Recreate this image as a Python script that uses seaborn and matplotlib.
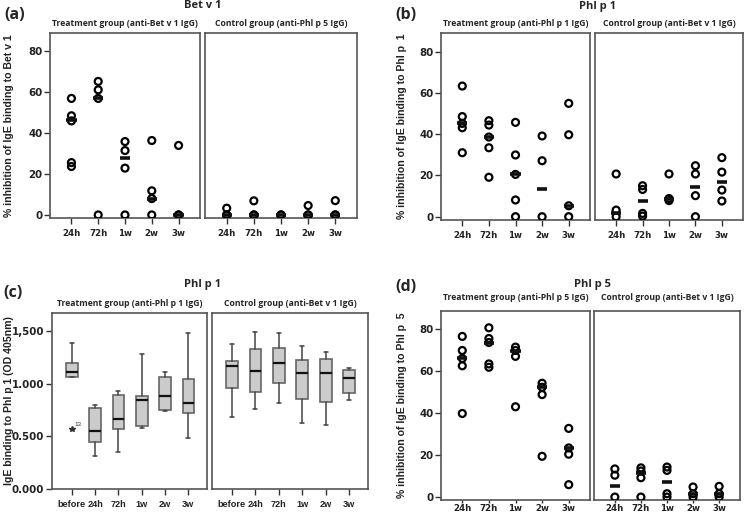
import numpy as np
import pandas as pd
import matplotlib
matplotlib.use("Agg")
import matplotlib.pyplot as plt
import seaborn as sns

# time points
times = ['24h', '72h', '1w', '2w', '3w']
c_times = ['before', '24h', '72h', '1w', '2w', '3w']

# (a) Bet v 1, % inhibition
a_treat = [[57, 48.5, 46, 25.6, 23.7], [65.3, 61.2, 57, 0], [35.9, 31.5, 22.9, 0],
           [36.4, 11.8, 8, 0], [34, 0, 0]]
a_treat_med = [46.2, 57, 27.8, 8, 0]
a_ctrl = [[3.3, 0, 0], [6.9, 0, 0], [0, 0], [4.6, 0, 0], [7, 0, 0]]
a_ctrl_med = [0, 0, 0, 0, 0]

# (b) Phl p 1, % inhibition
b_treat = [[63.3, 48.5, 45.2, 43.1, 31], [46.5, 44.4, 38.6, 33.4, 19.1],
           [45.7, 29.9, 20.5, 8.1, 0], [39.1, 27.1, 0], [54.9, 39.7, 5.3, 0]]
b_treat_med = [45.2, 38.6, 20.5, 13.2, 5.3]
b_ctrl = [[20.7, 3.2, 0], [15, 13.2, 1.6, 0.3], [20.7, 8.8, 7.8],
          [24.7, 20.7, 10.2, 0], [28.6, 21.6, 12.9, 7.6]]
b_ctrl_med = [1.6, 7.8, 8.4, 14.6, 16.6]

# (c) Phl p 1, IgE binding (OD 405nm), box statistics
c_treat_lo = [1.06, 0.313, 0.348, 0.58, 0.74, 0.48]
c_treat_q1 = [1.06, 0.442, 0.574, 0.596, 0.746, 0.724]
c_treat_med = [1.107, 0.552, 0.668, 0.846, 0.881, 0.818]
c_treat_q3 = [1.20, 0.768, 0.893, 0.884, 1.06, 1.044]
c_treat_hi = [1.389, 0.793, 0.928, 1.279, 1.113, 1.483]
c_treat_out = [[0.574], [], [], [], [], []]
c_ctrl_lo = [0.683, 0.755, 0.818, 0.627, 0.611, 0.84]
c_ctrl_q1 = [0.956, 0.925, 1.006, 0.856, 0.824, 0.909]
c_ctrl_med = [1.163, 1.122, 1.194, 1.097, 1.103, 1.05]
c_ctrl_q3 = [1.21, 1.326, 1.342, 1.226, 1.232, 1.132]
c_ctrl_hi = [1.373, 1.492, 1.483, 1.354, 1.304, 1.147]
c_ticks = [0, 0.5, 1.0, 1.5]
c_ticklabels = ['0.000', '0.500', '1.000', '1,500']

# (d) Phl p 5, % inhibition
d_treat = [[76.5, 69.8, 66, 62.5, 39.8], [80.6, 75.5, 73.6, 63.4, 61.8],
           [71.4, 69.8, 67, 43], [54.2, 52.3, 48.8, 19.4], [32.7, 23.4, 20.4, 5.9]]
d_treat_med = [66, 73.6, 69.5, 52.3, 23.4]
d_ctrl = [[13.4, 10.4, 0], [13.9, 12.4, 9.2, 0], [14.3, 12.7, 1.6, 0],
          [4.8, 1.6, 0], [5.1, 1.6, 0]]
d_ctrl_med = [5.4, 11.5, 7.2, 1.6, 1.6]

sns.set_style('ticks')
plt.rcParams['font.family'] = ['Liberation Sans', 'DejaVu Sans']
TFONT = ['Open Sans', 'DejaVu Sans']
SPINE = '#555555'

fig = plt.figure(figsize=(7.44, 5.2), dpi=100)


def px(l, t, r, b):
    return [l / 744, 1 - b / 520, (r - l) / 744, (b - t) / 520]


def StyleAxes(ax, show_y, xpad=4, xfont=None):
    if xfont is None:
        xfont = {'family': 'DejaVu Sans', 'weight': 'bold', 'size': 6.2}
    for s in ax.spines.values():
        s.set_visible(True)
        s.set_color(SPINE)
        s.set_linewidth(1.2)
    ax.tick_params(axis='x', length=4, width=1, color='#333333', pad=xpad)
    ax.tick_params(axis='y', length=4, width=1, color='#333333', pad=1.5)
    for lab in ax.get_xticklabels():
        lab.set_fontproperties(xfont)
        lab.set_color('#222222')
    for lab in ax.get_yticklabels():
        lab.set_fontproperties({'family': 'DejaVu Sans', 'weight': 'bold', 'size': 7.4})
        lab.set_color('#222222')
    if not show_y:
        ax.tick_params(axis='y', left=False, labelleft=False)
    ax.set_xlabel('')
    ax.set_ylabel('')


def DotPanel(ax, values, medians, ylim, show_y, xpad=4):
    df = pd.DataFrame({'time': [t for t, v in zip(times, values) for _ in v],
                       'value': [x for v in values for x in v]})
    sns.stripplot(data=df, x='time', y='value', order=times, jitter=False,
                  size=5, linewidth=1.6, ax=ax)
    for coll in ax.collections:
        coll.set_facecolor('none')
        coll.set_edgecolor('black')
    pos = np.arange(len(times))
    ax.hlines(medians, pos - 0.19, pos + 0.19, color='#111111', lw=2.6, zorder=5)
    ax.set_xlim(-0.8, 4.8)
    ax.set_ylim(*ylim)
    ax.set_yticks([0, 20, 40, 60, 80])
    StyleAxes(ax, show_y, xpad)


def BoxPanel(ax, lo, q1, med, q3, hi, out, show_y):
    stats = []
    for i in range(len(c_times)):
        stats.append({'whislo': lo[i], 'q1': q1[i], 'med': med[i], 'q3': q3[i],
                      'whishi': hi[i], 'fliers': out[i] if out else []})
    ax.bxp(stats, positions=np.arange(len(c_times)), widths=0.5, patch_artist=True,
           capwidths=0.17,
           boxprops=dict(facecolor='#cbcbcb', edgecolor='#666666', lw=1.2),
           medianprops=dict(color='#111111', lw=1.6),
           whiskerprops=dict(color='#444444', lw=1.1),
           capprops=dict(color='#444444', lw=1.1),
           flierprops=dict(marker='*', markersize=4, markerfacecolor='#333333',
                           markeredgecolor='#333333'))
    ax.set_xticks(np.arange(len(c_times)))
    ax.set_xticklabels(c_times)
    ax.set_xlim(-0.85, 5.8)
    ax.set_ylim(0, 1.67)
    ax.set_yticks(c_ticks)
    ax.set_yticklabels(c_ticklabels)
    StyleAxes(ax, show_y, 4, {'family': 'Liberation Sans', 'weight': 'bold', 'size': 6.6})


def Headers(letter, lx, ly, title, tx, ty, sub_l, sub_r, axl, axr, sy, ylabel, yx):
    fig.text(lx / 744, 1 - ly / 520, letter, fontsize=11.5, fontweight='bold',
             family=TFONT, va='center')
    fig.text(tx / 744, 1 - ty / 520, title, fontsize=8, fontweight='bold',
             family=TFONT, ha='center', va='center')
    for ax, sub in ((axl, sub_l), (axr, sub_r)):
        bb = ax.get_position()
        fig.text((bb.x0 + bb.x1) / 2, 1 - sy / 520, sub, fontsize=6.2,
                 fontweight='bold', family=TFONT, ha='center', va='center')
    bb = axl.get_position()
    fig.text(yx / 744, (bb.y0 + bb.y1) / 2, ylabel, fontsize=7.6, fontweight='bold',
             rotation=90, ha='center', va='center', color='#222222')


# (a)
ax1 = fig.add_axes(px(50, 33, 200, 218))
ax2 = fig.add_axes(px(205, 33, 357, 218))
DotPanel(ax1, a_treat, a_treat_med, (-1.5, 89), True)
DotPanel(ax2, a_ctrl, a_ctrl_med, (-1.5, 89), False)
Headers('(a)', 4, 15, 'Bet v 1', 203, 6, 'Treatment group (anti-Bet v 1 IgG)',
        'Control group (anti-Phl p 5 IgG)', ax1, ax2, 23,
        '% inhibition of IgE binding to Bet v 1', 9)

# (b)
ax3 = fig.add_axes(px(441, 33, 590, 220))
ax4 = fig.add_axes(px(595, 33, 743, 220))
DotPanel(ax3, b_treat, b_treat_med, (-1.6, 89), True)
DotPanel(ax4, b_ctrl, b_ctrl_med, (-1.6, 89), False)
Headers('(b)', 395, 15, 'Phl p 1', 598, 6, 'Treatment group (anti-Phl p 1 IgG)',
        'Control group (anti-Bet v 1 IgG)', ax3, ax4, 23,
        '% inhibition of IgE binding to Phl p  1', 402)

# (c)
ax5 = fig.add_axes(px(52, 313, 207, 489))
ax6 = fig.add_axes(px(212, 313, 368, 489))
BoxPanel(ax5, c_treat_lo, c_treat_q1, c_treat_med, c_treat_q3, c_treat_hi, c_treat_out, True)
BoxPanel(ax6, c_ctrl_lo, c_ctrl_q1, c_ctrl_med, c_ctrl_q3, c_ctrl_hi, None, False)
ax5.annotate('13', (0, c_treat_out[0][0]), xytext=(2, 2), textcoords='offset points',
             fontsize=4.5, color='#333333')
Headers('(c)', 3, 293, 'Phl p 1', 203, 285, 'Treatment group (anti-Phl p 1 IgG)',
        'Control group (anti-Bet v 1 IgG)', ax5, ax6, 303,
        'IgE binding to Phl p 1 (OD 405nm)', 9)

# (d)
ax7 = fig.add_axes(px(441, 311, 590, 500))
ax8 = fig.add_axes(px(594, 311, 740, 500))
DotPanel(ax7, d_treat, d_treat_med, (-1.4, 88.6), True, xpad=0.5)
DotPanel(ax8, d_ctrl, d_ctrl_med, (-1.4, 88.6), False, xpad=0.5)
for ax in (ax7, ax8):
    ax.tick_params(axis='x', length=2.5)
Headers('(d)', 395, 287, 'Phl p 5', 592, 284, 'Treatment group (anti-Phl p 5 IgG)',
        'Control group (anti-Bet v 1 IgG)', ax7, ax8, 298,
        '% inhibition of IgE binding to Phl p  5', 402)

fig.savefig('out.png', dpi=100)
